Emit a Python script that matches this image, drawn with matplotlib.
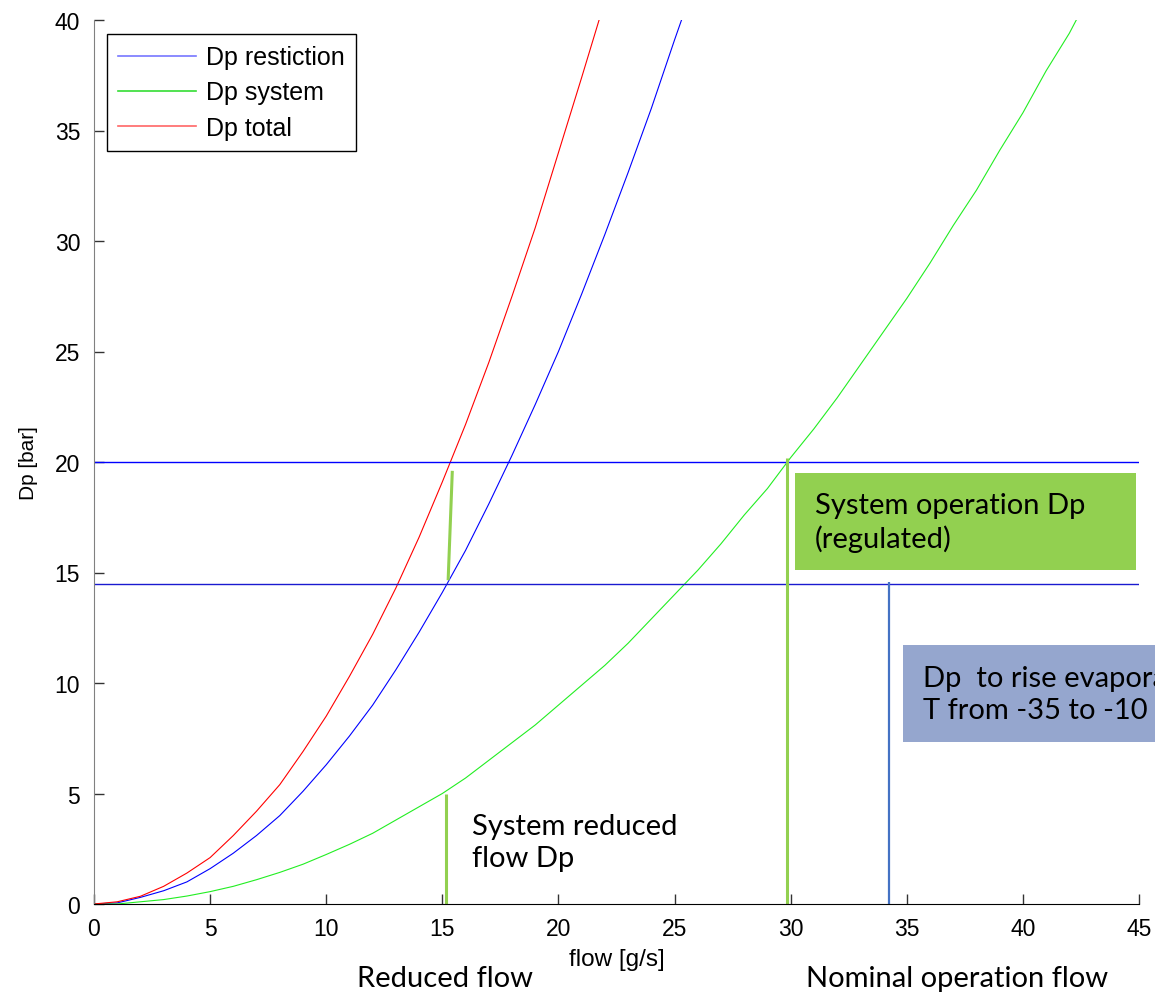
import numpy as np
import matplotlib.pyplot as plt
from matplotlib.patches import Rectangle

# pressure drop curves (flow in g/s, Dp in bar)
flow_restr = [0, 1, 2, 3, 4, 5, 6, 7, 8, 9, 10, 11, 12, 13, 14, 15, 16, 17, 18, 19,
              20, 21, 22, 23, 24, 25, 25.3]
dp_restr = [0, 0.05, 0.3, 0.6, 1.0, 1.6, 2.3, 3.1, 4.0, 5.1, 6.3, 7.6, 9.0, 10.6, 12.3,
            14.1, 16.0, 18.1, 20.3, 22.6, 25.0, 27.6, 30.3, 33.1, 36.0, 39.1, 40.0]

flow_sys = [0, 1, 2, 3, 4, 5, 6, 7, 8, 9, 10, 11, 12, 13, 14, 15, 16, 17, 18, 19, 20,
            21, 22, 23, 24, 25, 26, 27, 28, 29, 30, 31, 32, 33, 34, 35, 36, 37, 38, 39,
            40, 41, 42, 42.3]
dp_sys = [0, 0.0, 0.1, 0.2, 0.36, 0.56, 0.8, 1.1, 1.43, 1.8, 2.24, 2.7, 3.2, 3.8, 4.4,
          5.0, 5.7, 6.5, 7.3, 8.1, 9.0, 9.9, 10.8, 11.8, 12.9, 14.0, 15.1, 16.3, 17.6,
          18.8, 20.2, 21.5, 22.9, 24.4, 25.9, 27.4, 29.0, 30.7, 32.3, 34.1, 35.8, 37.7,
          39.4, 40.0]

flow_tot = [0, 1, 2, 3, 4, 5, 6, 7, 8, 9, 10, 11, 12, 13, 14, 15, 16, 17, 18, 19, 20,
            21, 21.75]
dp_tot = [0, 0.1, 0.35, 0.8, 1.4, 2.1, 3.1, 4.2, 5.4, 6.9, 8.5, 10.3, 12.2, 14.3, 16.6,
          19.1, 21.7, 24.5, 27.5, 30.6, 34.0, 37.4, 40.0]

legend_labels = ['Dp restiction', 'Dp system', 'Dp total']

# operating levels and markers
dp_regulated = 20
dp_reduced = 14.5
reduced_mark = ([15.15, 15.15], [0, 5.0])
slant_mark = ([15.25, 15.43], [14.65, 19.6])
nominal_mark = ([29.85, 29.85], [0, 20.2])
evap_mark = ([34.25, 34.25], [0, 14.55])

xticks = [0, 5, 10, 15, 20, 25, 30, 35, 40, 45]
yticks = [0, 5, 10, 15, 20, 25, 30, 35, 40]

plt.rcParams['font.family'] = ['Liberation Sans', 'DejaVu Sans']
note_font = ['Lato', 'DejaVu Sans']

W, H = 1155, 995
fig = plt.figure(figsize=(W / 100, H / 100), dpi=100)
ax = fig.add_axes([94 / W, 1 - 905 / H, (1139 - 94) / W, (905 - 21) / H])

l1, = ax.plot(flow_restr, dp_restr, color='#0000ff', lw=0.8, label=legend_labels[0])
l2, = ax.plot(flow_sys, dp_sys, color='#22ee22', lw=0.8, label=legend_labels[1])
l3, = ax.plot(flow_tot, dp_tot, color='#ff0000', lw=0.8, label=legend_labels[2])

ax.axhline(dp_regulated, color='#0000ff', lw=1.0)
ax.axhline(dp_reduced, color='#1a1ad0', lw=1.0)

ax.plot(*reduced_mark, color='#92d050', lw=2.2, solid_capstyle='butt')
ax.plot(*slant_mark, color='#92d050', lw=2.2, solid_capstyle='butt')
ax.plot(*nominal_mark, color='#92d050', lw=2.2, solid_capstyle='butt')
ax.plot(*evap_mark, color='#4472c4', lw=1.6, solid_capstyle='butt')

ax.set_xlim(0, 45)
ax.set_ylim(0, 40)
ax.set_xticks(xticks)
ax.set_yticks(yticks)
ax.tick_params(direction='in', length=7, width=1, labelsize=16.5, color='#333333')
ax.tick_params(axis='x', pad=9)
ax.tick_params(axis='y', pad=10)
for s in ['top', 'right']:
    ax.spines[s].set_visible(False)
ax.spines['left'].set_color('#808080')
ax.spines['bottom'].set_color('black')

ax.set_xlabel('flow [g/s]', fontsize=17.5, labelpad=6)
ax.set_ylabel('Dp [bar]', fontsize=15, labelpad=12)

leg = ax.legend(handles=[l1, l2, l3], loc='upper left',
                bbox_to_anchor=((107 - 94) / 1045, (905 - 35) / 884),
                borderaxespad=0, fontsize=18, fancybox=False, framealpha=1,
                edgecolor='black', handlelength=3.1, handletextpad=0.4,
                borderpad=0.45, labelspacing=0.45)
leg.get_frame().set_linewidth(1.0)
for line, c in zip(leg.get_lines(), ['#7777ff', '#33dd33', '#ff6666']):
    line.set_color(c)
    line.set_linewidth(1.2)


def fx(px):
    return px / W


def fy(py):
    return 1 - py / H


note_size = 21

# coloured note boxes
fig.patches.append(Rectangle((fx(795), fy(571)), (1136 - 795) / W, (571 - 474) / H,
                             transform=fig.transFigure, facecolor='#92d050',
                             edgecolor='none', zorder=3))
fig.text(fx(815), fy(523), 'System operation Dp\n(regulated)', family=note_font,
         fontsize=note_size, va='center', ha='left', linespacing=1.3, zorder=4)

fig.patches.append(Rectangle((fx(903), fy(743)), (1200 - 903) / W, (743 - 646) / H,
                             transform=fig.transFigure, facecolor='#95a6ce',
                             edgecolor='none', zorder=3))
fig.text(fx(923), fy(695), 'Dp  to rise evaporation\nT from -35 to -10 C',
         family=note_font, fontsize=note_size, va='center', ha='left',
         linespacing=1.3, zorder=4)

fig.text(fx(472), fy(843), 'System reduced\nflow Dp', family=note_font,
         fontsize=note_size, va='center', ha='left', linespacing=1.3)
fig.text(fx(357), fy(979), 'Reduced flow', family=note_font, fontsize=note_size,
         va='center', ha='left')
fig.text(fx(806), fy(979), 'Nominal operation flow', family=note_font,
         fontsize=note_size, va='center', ha='left')

fig.savefig('out.png', dpi=100)
